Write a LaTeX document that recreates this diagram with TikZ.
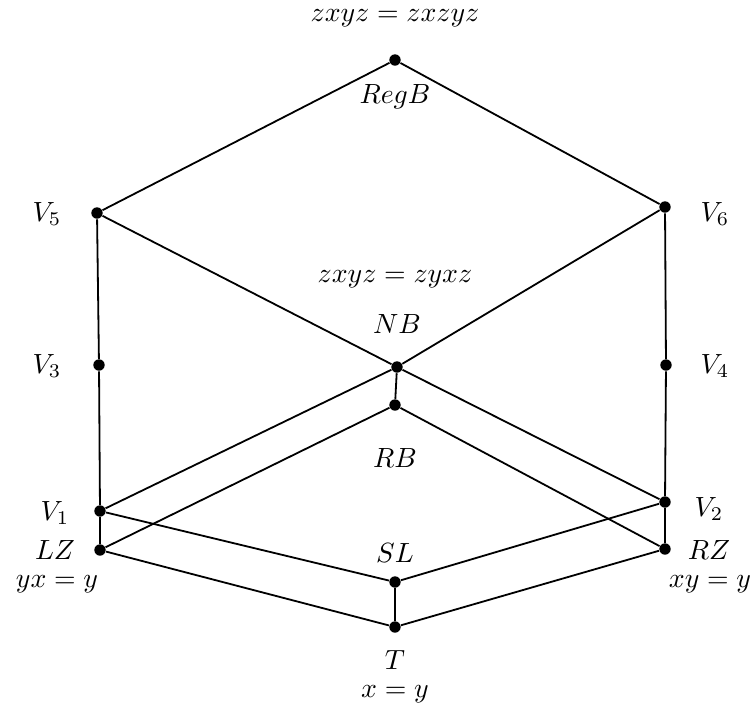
\documentclass[tikz,border=0pt]{standalone}
\begin{document}
\begin{tikzpicture}[x=0.36pt,y=-0.36pt,
  dot/.style={circle,fill=black,inner sep=0pt,minimum size=4.1pt},
  lbl/.style={inner sep=0pt},
  edge/.style={line width=0.65pt}]
\useasboundingbox (0,0) rectangle (752,716);
% vertices
\node[dot] (RegB) at (395,60) {};
\node[dot] (V5) at (97,213) {};
\node[dot] (V6) at (665,207) {};
\node[dot] (V3) at (99,365) {};
\node[dot] (V4) at (666,365) {};
\node[dot] (NB) at (397,367) {};
\node[dot] (RB) at (395,405) {};
\node[dot] (V1) at (100,511) {};
\node[dot] (V2) at (665,502) {};
\node[dot] (LZ) at (100,550) {};
\node[dot] (RZ) at (665,549) {};
\node[dot] (SL) at (395,582) {};
\node[dot] (T) at (395,627) {};
% labels
\node[lbl] (lRegBeq) at (395,18) {$zxyz=zxzyz$};
\node[lbl] (lRegB) at (395,97) {$RegB$};
\node[lbl] (lV5) at (47,214) {$V_5$};
\node[lbl] (lV6) at (715,214) {$V_6$};
\node[lbl] (lNBeq) at (395,279) {$zxyz=zyxz$};
\node[lbl] (lNB) at (397,324) {$NB$};
\node[lbl] (lV3) at (47,366) {$V_3$};
\node[lbl] (lV4) at (715,366) {$V_4$};
\node[lbl] (lRB) at (395,458) {$RB$};
\node[lbl] (lV1) at (55,513) {$V_1$};
\node[lbl] (lV2) at (709,509) {$V_2$};
\node[lbl] (lLZ) at (55,550) {$LZ$};
\node[lbl] (lRZ) at (709,550) {$RZ$};
\node[lbl] (lLZeq) at (57,584) {$yx=y$};
\node[lbl] (lRZeq) at (710,584) {$xy=y$};
\node[lbl] (lSL) at (395,553) {$SL$};
\node[lbl] (lT) at (395,660) {$T$};
\node[lbl] (lTeq) at (395,694) {$x=y$};
% edges
\draw[edge] (RegB) -- (V5);
\draw[edge] (RegB) -- (V6);
\draw[edge] (V5) -- (V3) -- (V1);
\draw[edge] (V6) -- (V4) -- (V2);
\draw[edge] (V5) -- (NB);
\draw[edge] (V6) -- (NB);
\draw[edge] (NB) -- (V1);
\draw[edge] (NB) -- (V2);
\draw[edge] (NB) -- (RB);
\draw[edge] (RB) -- (LZ);
\draw[edge] (RB) -- (RZ);
\draw[edge] (V1) -- (LZ);
\draw[edge] (V2) -- (RZ);
\draw[edge] (V1) -- (SL);
\draw[edge] (V2) -- (SL);
\draw[edge] (SL) -- (T);
\draw[edge] (LZ) -- (T);
\draw[edge] (RZ) -- (T);
\end{tikzpicture}
\end{document}
